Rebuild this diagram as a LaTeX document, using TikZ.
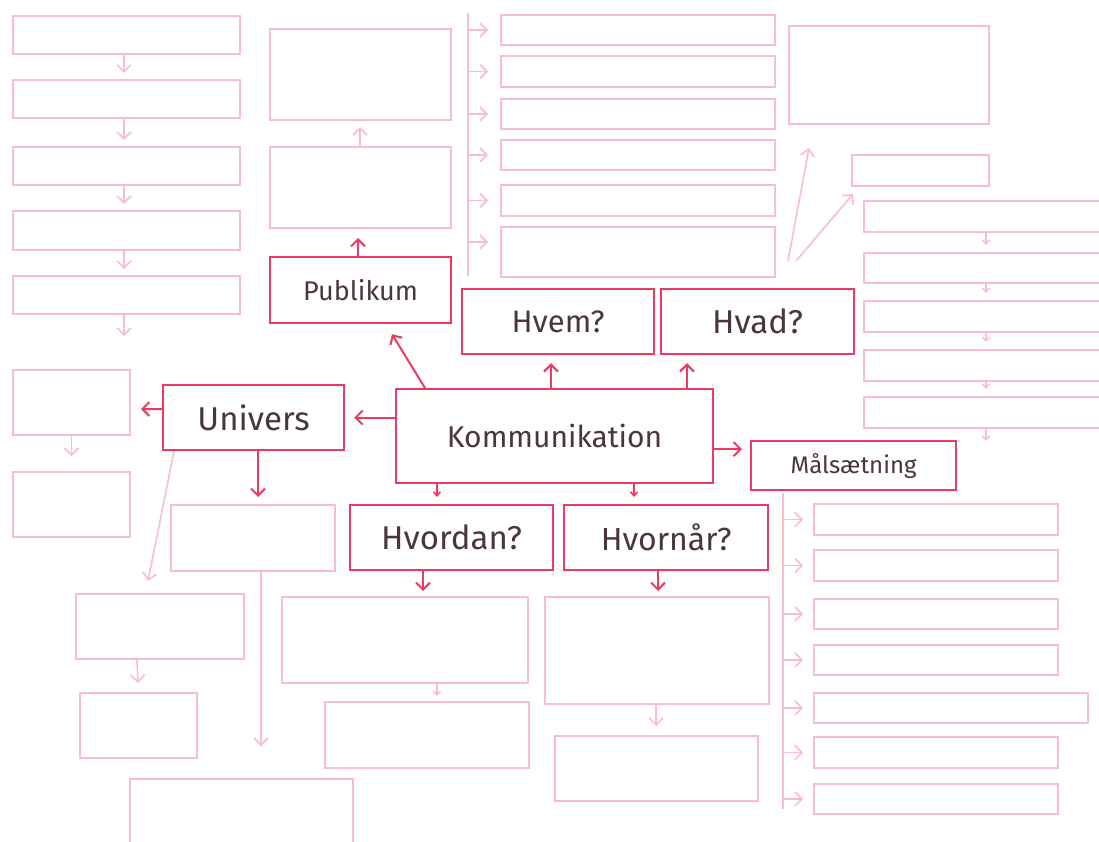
\documentclass[tikz,border=0pt]{standalone}
\usepackage{fontspec}
\setmainfont{Fira Sans}
\usetikzlibrary{arrows.meta,calc}
\definecolor{dk}{HTML}{EB3B63}
\definecolor{lt}{HTML}{F9BECB}
\definecolor{tx}{HTML}{4B3540}
\newcommand{\bx}[7]{\node[#1,anchor=north west,minimum width={(#5-#3)*1pt},minimum height={(#6-#4)*1pt}] (#2) at (#3,#4) {#7};}
\tikzset{
  dbox/.style={draw=dk,line width=2.2pt,inner sep=0pt,text=tx},
  lbox/.style={draw=lt,line width=2pt,inner sep=0pt},
  darr/.style={draw=dk,line width=2pt,-{Straight Barb[length=7pt,width=14pt]}},
  sdarr/.style={draw=dk,line width=1.6pt,-{Straight Barb[length=4pt,width=7pt]}},
  larr/.style={draw=lt,line width=1.6pt,-{Straight Barb[length=7pt,width=14pt]}},
  slarr/.style={draw=lt,line width=1.4pt,-{Straight Barb[length=4pt,width=7pt]}},
  lline/.style={draw=lt,line width=2pt},
  fs/.style={font=\fontsize{#1}{#1}\selectfont}
}
\begin{document}
\begin{tikzpicture}[x=1pt,y=-1pt]
\useasboundingbox (0,0) rectangle (1099,842);
\fill[white] (0,0) rectangle (1099,842);
\clip (0,0) rectangle (1099,842);
% dark boxes
\bx{dbox,fs=30}{komm}{395}{388}{712}{482}{Kommunikation}
\bx{dbox,fs=31}{hvem}{461}{288}{653}{353}{Hvem?}
\bx{dbox,fs=33}{hvad}{660}{288}{853}{353}{Hvad?}
\bx{dbox,fs=33}{univ}{162}{384}{343}{449}{Univers}
\bx{dbox,fs=27}{publ}{269}{256}{450}{322}{Publikum}
\bx{dbox,fs=33}{hvord}{349}{504}{552}{569}{Hvordan?}
\bx{dbox,fs=32}{hvorn}{563}{504}{767}{569}{Hvornår?}
\bx{dbox,fs=24}{mal}{750}{440}{955}{489}{Målsætning}
% left column
\bx{lbox}{L1}{12}{15}{239}{53}{}
\bx{lbox}{L2}{12}{79}{239}{117}{}
\bx{lbox}{L3}{12}{146}{239}{184}{}
\bx{lbox}{L4}{12}{210}{239}{249}{}
\bx{lbox}{L5}{12}{275}{239}{313}{}
\bx{lbox}{LA}{12}{369}{129}{434}{}
\bx{lbox}{LB}{12}{471}{129}{536}{}
\bx{lbox}{UB}{170}{504}{334}{570}{}
\bx{lbox}{LC}{75}{593}{243}{658}{}
\bx{lbox}{LD}{79}{692}{196}{757}{}
\bx{lbox}{LE}{129}{778}{352}{870}{}
% middle
\bx{lbox}{F}{281}{596}{527}{682}{}
\bx{lbox}{G}{324}{701}{528}{767}{}
\bx{lbox}{H}{544}{596}{768}{703}{}
\bx{lbox}{I}{554}{735}{757}{800}{}
\bx{lbox}{P1}{269}{146}{450}{227}{}
\bx{lbox}{P2}{269}{28}{450}{119}{}
% top list
\bx{lbox}{T1}{500}{14}{774}{44}{}
\bx{lbox}{T2}{500}{55}{774}{86}{}
\bx{lbox}{T3}{500}{98}{774}{128}{}
\bx{lbox}{T4}{500}{139}{774}{169}{}
\bx{lbox}{T5}{500}{184}{774}{215}{}
\bx{lbox}{T6}{500}{226}{774}{276}{}
\bx{lbox}{TR}{788}{25}{988}{123}{}
\bx{lbox}{SB}{851}{154}{988}{185}{}
% right list
\bx{lbox}{R1}{863}{200}{1110}{231}{}
\bx{lbox}{R2}{863}{252}{1110}{282}{}
\bx{lbox}{R3}{863}{300}{1110}{331}{}
\bx{lbox}{R4}{863}{349}{1110}{380}{}
\bx{lbox}{R5}{863}{396}{1110}{427}{}
% Maalsaetning list
\bx{lbox}{M1}{813}{503}{1057}{534}{}
\bx{lbox}{M2}{813}{549}{1057}{580}{}
\bx{lbox}{M3}{813}{598}{1057}{628}{}
\bx{lbox}{M4}{813}{644}{1057}{674}{}
\bx{lbox}{M5}{813}{692}{1087}{722}{}
\bx{lbox}{M6}{813}{736}{1057}{767}{}
\bx{lbox}{M7}{813}{783}{1057}{813}{}
% free coordinates
\coordinate (tvtop) at (468,13);
\coordinate (tvbot) at (468,276);
\coordinate (mvbot) at (783,809);
\coordinate (ubend) at (261,746);
\coordinate (d1s) at (788,261);
\coordinate (d2s) at (796,261);
% dark arrows
\draw[darr] ([xshift=156pt]komm.north west) -- ([xshift=90pt,yshift=-8pt]hvem.south west);
\draw[darr] ([xshift=292pt]komm.north west) -- ([xshift=27pt,yshift=-8pt]hvad.south west);
\draw[darr] ([xshift=30pt]komm.north west) -- ([xshift=123pt,yshift=-10pt]publ.south west);
\draw[darr] (komm.west |- univ.east) -- ([xshift=9pt]univ.east);
\draw[darr] ([yshift=-13pt]komm.east) -- ([xshift=-8pt,yshift=16.5pt]mal.west);
\draw[sdarr] ([xshift=42pt]komm.south west) -- ([xshift=88pt,yshift=7pt]hvord.north west);
\draw[sdarr] ([xshift=239pt]komm.south west) -- ([xshift=71pt,yshift=7pt]hvorn.north west);
\draw[darr] ([yshift=8.5pt]univ.west) -- ([xshift=10pt,yshift=-6.5pt]LA.east);
\draw[darr] ([xshift=96pt]univ.south west) -- ([xshift=88pt,yshift=7pt]UB.north west);
\draw[darr] ([xshift=74pt]hvord.south west) -- ([xshift=142pt,yshift=5pt]F.north west);
\draw[darr] ([xshift=95pt]hvorn.south west) -- ([xshift=114pt,yshift=5pt]H.north west);
\draw[darr] ([xshift=89pt]publ.north west) -- ([xshift=89pt,yshift=-9pt]P1.south west);
% light arrows
\draw[larr] ([xshift=12pt]univ.south west) -- ([xshift=73pt,yshift=12pt]LC.north west);
\draw[slarr] ([xshift=156pt]F.south west) -- ([xshift=113pt,yshift=5pt]G.north west);
\draw[larr] ([xshift=112pt]H.south west) -- ([xshift=102pt,yshift=9pt]I.north west);
\draw[larr] ([xshift=91pt]P1.north west) -- ([xshift=91pt,yshift=-6pt]P2.south west);
\draw[larr,shorten >=6pt] ([xshift=-2.5pt]L1.south) -- ([xshift=-2.5pt]L2.north);
\draw[larr,shorten >=6pt] ([xshift=-2.5pt]L2.south) -- ([xshift=-2.5pt]L3.north);
\draw[larr,shorten >=6pt] ([xshift=-2.5pt]L3.south) -- ([xshift=-2.5pt]L4.north);
\draw[larr,shorten >=6pt] ([xshift=-2.5pt]L4.south) -- ([xshift=-2.5pt]L5.north);
\draw[larr] ([xshift=-2.5pt]L5.south) -- ([xshift=-2.5pt,yshift=-21pt]L5.south);
\draw[larr,shorten >=15pt] (LA.south) -- (LB.north);
\draw[larr] ([xshift=62pt]LC.south west) -- ([xshift=59pt,yshift=9pt]LD.north west);
\draw[larr] ([xshift=91pt]UB.south west) -- (ubend);
% top list
\draw[lline] (tvtop) -- (tvbot);
\foreach \t in {T1,T2,T3,T4,T5}{
  \draw[larr] (tvtop |- \t.west) -- ([xshift=-12pt]\t.west);
}
\draw[larr] ($(tvtop |- T6.west)+(0,-10)$) -- ([xshift=-12pt,yshift=10pt]T6.west);
\draw[larr] (d1s) -- ([xshift=21pt,yshift=-23pt]TR.south west);
\draw[larr] (d2s) -- ([xshift=2pt,yshift=-7pt]SB.south west);
% right list
\draw[slarr,shorten >=7pt] ([xshift=-1.5pt]R1.south) -- ([xshift=-1.5pt]R2.north);
\draw[slarr,shorten >=7pt] ([xshift=-1.5pt]R2.south) -- ([xshift=-1.5pt]R3.north);
\draw[slarr,shorten >=7pt] ([xshift=-1.5pt]R3.south) -- ([xshift=-1.5pt]R4.north);
\draw[slarr,shorten >=7pt] ([xshift=-1.5pt]R4.south) -- ([xshift=-1.5pt]R5.north);
\draw[slarr] ([xshift=-1.5pt]R5.south) -- ([xshift=-1.5pt,yshift=-12pt]R5.south);
% Maalsaetning list
\draw[lline] ([xshift=33pt,yshift=-2pt]mal.south west) -- (mvbot);
\foreach \m in {M1,M2,M3,M4,M5,M6,M7}{
  \draw[larr] (mvbot |- \m.west) -- ([xshift=-10pt]\m.west);
}
\end{tikzpicture}
\end{document}
